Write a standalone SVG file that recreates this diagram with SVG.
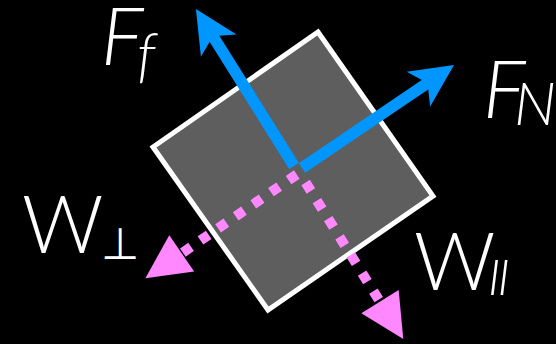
<svg xmlns="http://www.w3.org/2000/svg" width="556" height="344" viewBox="0 0 556 344">
<style>
.lbl{fill:#fff;font-family:Lato,"Liberation Sans",sans-serif;font-weight:300}
.it{font-style:italic}
.blue{stroke:#0096FF;stroke-width:11.5;fill:none}
.pink{stroke:#FF88FF;stroke-width:10;stroke-dasharray:10 11.35;fill:none}
</style>
<defs>
<marker id="bh" markerUnits="userSpaceOnUse" markerWidth="60" markerHeight="60" refX="11" refY="0" orient="auto" overflow="visible" viewBox="-5 -30 60 60">
<path d="M11,0 L0,-21 L43,0 L0,21 Z" fill="#0096FF"/>
</marker>
<marker id="ph" markerUnits="userSpaceOnUse" markerWidth="60" markerHeight="60" refX="0" refY="0" orient="auto" overflow="visible" viewBox="-5 -30 60 60">
<path d="M0,-22 L44,0 L0,22 Z" fill="#FF88FF"/>
</marker>
</defs>
<rect width="556" height="344" fill="#000"/>
<g id="block">
<polygon points="318,32 433,196 268,310 153,147" fill="#5E5E5E" stroke="#fff" stroke-width="5" stroke-linejoin="miter"/>
</g>
<g id="connectors">
<line class="blue" x1="294" y1="166" x2="212.9" y2="36.2" marker-end="url(#bh)"/>
<line class="blue" x1="302" y1="168" x2="427.5" y2="83" marker-end="url(#bh)"/>
<line class="pink" x1="296.8" y1="174.5" x2="181.7" y2="253.3" marker-end="url(#ph)"/>
<line class="pink" x1="305.6" y1="182.5" x2="380" y2="301.7" marker-end="url(#ph)"/>
</g>
<g id="label-Ff">
<text class="lbl it" x="101" y="65" font-size="80">F</text>
<text class="lbl it" x="137" y="75" font-size="60">f</text>
</g>
<g id="label-FN">
<text class="lbl it" x="483" y="118" font-size="80">F</text>
<text class="lbl it" x="514" y="125" font-size="60">N</text>
</g>
<g id="label-Wperp">
<text class="lbl" x="22" y="253" font-size="80">W</text>
<text class="lbl" x="101" y="259" font-size="44" style="font-family:'DejaVu Sans',sans-serif;font-weight:200">⊥</text>
</g>
<g id="label-Wpar">
<text class="lbl" x="414" y="290" font-size="80">W</text>
<text class="lbl it" x="488" y="295" font-size="50" letter-spacing="-3">II</text>
</g>
</svg>
